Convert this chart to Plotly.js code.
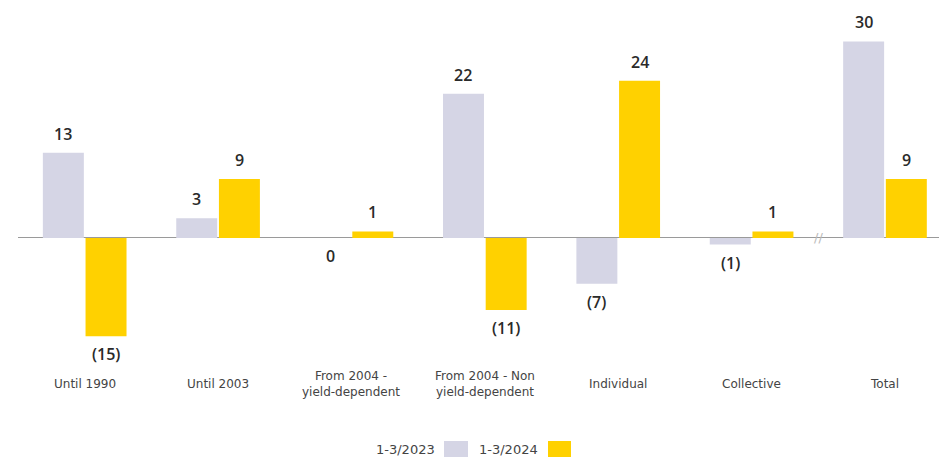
<!DOCTYPE html>
<html>
<head>
<meta charset="utf-8">
<script src="https://cdn.plot.ly/plotly-3.0.1.min.js"></script>
<style>
  html, body { margin: 0; padding: 0; background: #ffffff; }
  #chart { width: 939px; height: 457px; }
</style>
</head>
<body>
<div id="chart"></div>
<script>
// Categories and quarterly values (Q1 2023 vs Q1 2024)
const categories = [
  'Until 1990',
  'Until 2003',
  'From 2004 -<br>yield-dependent',
  'From 2004 - Non<br>yield-dependent',
  'Individual',
  'Collective',
  'Total'
];
const seriesNames = ['1-3/2023', '1-3/2024'];
const values2023 = [13, 3, 0, 22, -7, -1, 30];
const values2024 = [-15, 9, 1, -11, 24, 1, 9];

const colors = ['#D5D5E5', '#FFD100'];
const labelFont = 'DejaVu Sans, sans-serif';
const valueFont = 'Open Sans, DejaVu Sans, sans-serif';

// Plot-area geometry
const W = 939, Hfig = 457;
const M = { l: 18, r: 0, t: 10, b: 89 };
const PW = W - M.l - M.r, PH = Hfig - M.t - M.b;
const px2x = px => (px - M.l) / PW;
const px2y = py => (M.t + PH - py) / PH;

const bargap = 0.36, bargroupgap = 0.04;
const slot = (1 - bargap) / 2;

const fmt = v => v < 0 ? '(' + Math.abs(v) + ')' : String(v);

const traces = [values2023, values2024].map((vals, k) => ({
  type: 'bar',
  name: seriesNames[k],
  x: categories,
  y: vals,
  marker: { color: colors[k], line: { width: 0 } },
  hoverinfo: 'skip',
  showlegend: false
}));

const annotations = [];

// value labels above positive bars, below negative / zero bars
[values2023, values2024].forEach((vals, k) => {
  const offset = (k === 0 ? -1 : 1) * slot / 2;
  vals.forEach((v, i) => {
    const pos = v > 0;
    annotations.push({
      xref: 'x', yref: 'y',
      x: i + offset, y: v,
      text: fmt(v),
      showarrow: false,
      xanchor: 'center',
      yanchor: pos ? 'bottom' : 'top',
      yshift: pos ? 6 : -5,
      font: { family: valueFont, size: 16, weight: 600, color: '#2a2a2a' }
    });
  });
});

// category labels below the plot
categories.forEach((c, i) => {
  annotations.push({
    xref: 'x', yref: 'paper',
    x: i, y: px2y(384),
    text: c,
    showarrow: false,
    xanchor: 'center', yanchor: 'middle',
    align: 'center',
    font: { family: labelFont, size: 12, color: '#444444' }
  });
});

// axis break mark before the total
annotations.push({
  xref: 'x', yref: 'y',
  x: 5.5, y: 0,
  text: '//',
  showarrow: false,
  xanchor: 'center', yanchor: 'middle',
  font: { family: labelFont, size: 13, color: '#bbbbbb' }
});

// legend: label followed by colour swatch
const legendItems = [
  { textRight: 437, swL: 444, swR: 468 },
  { textRight: 540, swL: 548, swR: 571 }
];
const shapes = [];
legendItems.forEach((it, k) => {
  annotations.push({
    xref: 'paper', yref: 'paper',
    x: px2x(it.textRight), y: px2y(449),
    text: seriesNames[k],
    showarrow: false,
    xanchor: 'right', yanchor: 'middle',
    font: { family: labelFont, size: 13, color: '#444444' }
  });
  shapes.push({
    type: 'rect', xref: 'paper', yref: 'paper',
    x0: px2x(it.swL), x1: px2x(it.swR),
    y0: px2y(441), y1: px2y(462),
    fillcolor: colors[k], line: { width: 0 }
  });
});

const layout = {
  width: W, height: Hfig,
  margin: M,
  paper_bgcolor: '#ffffff',
  plot_bgcolor: '#ffffff',
  barmode: 'group',
  bargap: bargap,
  bargroupgap: bargroupgap,
  showlegend: false,
  xaxis: {
    type: 'category',
    range: [-0.5, 6.405],
    showticklabels: false,
    showgrid: false,
    zeroline: false,
    showline: false,
    ticks: ''
  },
  yaxis: {
    range: [-19.85, 34.8],
    showticklabels: false,
    showgrid: false,
    zeroline: true,
    zerolinecolor: '#9a9a9a',
    zerolinewidth: 1,
    showline: false,
    ticks: ''
  },
  annotations: annotations,
  shapes: shapes
};

Plotly.newPlot('chart', traces, layout, { displayModeBar: false, staticPlot: true });
</script>
</body>
</html>
